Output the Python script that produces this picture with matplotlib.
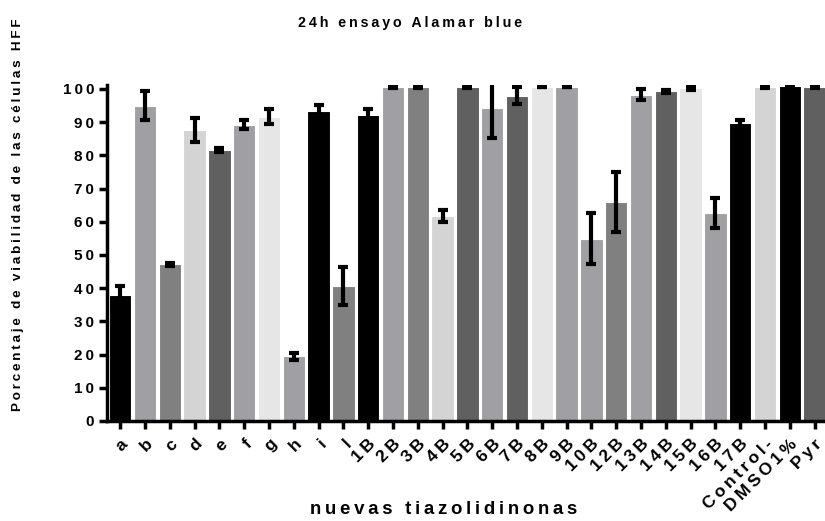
import matplotlib
matplotlib.use('Agg')
import matplotlib.pyplot as plt
import numpy as np

plt.rcParams['font.family'] = ['Liberation Sans', 'DejaVu Sans']
plt.rcParams['font.weight'] = 'bold'

labels = ['a', 'b', 'c', 'd', 'e', 'f', 'g', 'h', 'i', 'l',
          '1B', '2B', '3B', '4B', '5B', '6B', '7B', '8B', '9B', '10B',
          '12B', '13B', '14B', '15B', '16B', '17B', 'Control-', 'DMSO1%', 'Pyr']
viab = [38.0, 95.0, 47.2, 87.6, 81.6, 89.2, 91.6, 19.5, 93.2, 40.6,
        92.2, 100.7, 100.7, 61.7, 100.7, 94.2, 98.0, 100.7, 100.7, 54.9,
        66.0, 98.3, 99.3, 100.2, 62.5, 89.6, 100.7, 100.8, 100.7]
sd = [2.5, 4.4, 0.5, 3.5, 0.5, 1.4, 2.2, 1.0, 2.0, 5.8,
      1.6, 0.4, 0.4, 1.9, 0.4, 9.0, 2.6, 0.0, 0.0, 7.6,
      9.1, 1.6, 0.4, 0.4, 4.5, 1.0, 0.4, 0.0, 0.4]
colores = ['#000000', '#a0a0a4', '#808080', '#d4d4d4', '#606060', '#a0a0a4', '#e6e6e6', '#a0a0a4', '#000000', '#808080',
           '#000000', '#a0a0a4', '#808080', '#d4d4d4', '#606060', '#a0a0a4', '#606060', '#e6e6e6', '#a0a0a4', '#a0a0a4',
           '#808080', '#a0a0a4', '#606060', '#e6e6e6', '#a0a0a4', '#000000', '#d4d4d4', '#000000', '#606060']


def spaced(s):
    # separa las letras con espacio fino
    return '\u2009'.join(s)


fig = plt.figure(figsize=(8.25, 5.21), dpi=100)
ax = fig.add_axes([0.13, 0.192, 0.87, 0.645])

x = np.arange(len(labels))
ax.bar(x, viab, width=0.9, color=colores, edgecolor='white', linewidth=0.8, zorder=2)
ax.errorbar(x, viab, yerr=sd, fmt='none', ecolor='black', elinewidth=3,
            capsize=3.5, capthick=3, zorder=3)

ax.set_xlim(-0.52, 28.42)
ax.set_ylim(0, 101.2)
ax.set_yticks(range(0, 101, 10))
ax.set_yticklabels([spaced(str(v)) for v in range(0, 101, 10)], fontsize=11, fontweight='bold')
ax.set_xticks(x)
ax.set_xticklabels([spaced(l) for l in labels], rotation=45, ha='right',
                   rotation_mode='anchor', fontsize=12.5, fontweight='bold')

for s in ['top', 'right']:
    ax.spines[s].set_visible(False)
for s in ['left', 'bottom']:
    ax.spines[s].set_linewidth(2.5)
ax.tick_params(axis='both', width=2.5, length=6, direction='out')
ax.tick_params(axis='x', pad=5)

fig.text(0.497, 0.955, spaced('24h ensayo Alamar blue'), ha='center', va='center',
         fontsize=10.3, fontweight='bold')
fig.text(0.538, 0.022, spaced('nuevas tiazolidinonas'), ha='center', va='center',
         fontsize=13.4, fontweight='bold')
fig.text(0.022, 0.587, spaced('Porcentaje de viabilidad de las células HFF'), ha='center',
         va='center', rotation=90, fontsize=9.7, fontweight='bold')

plt.savefig('out.png', dpi=100)
